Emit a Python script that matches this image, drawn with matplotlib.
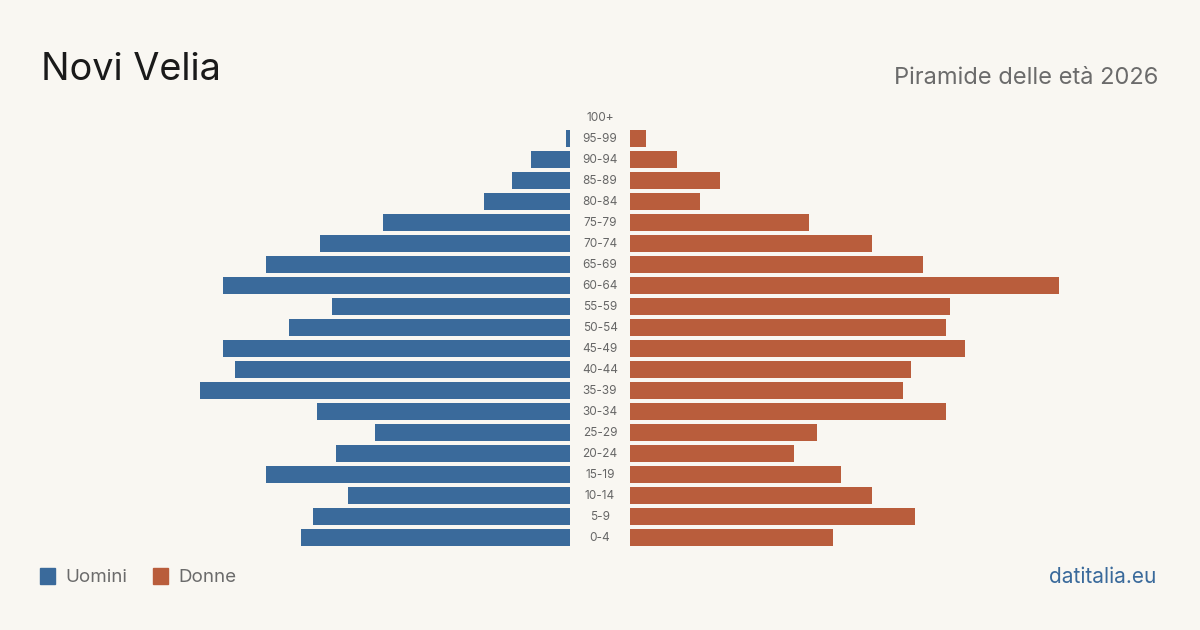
import numpy as np
import matplotlib.pyplot as plt
from matplotlib.patches import Rectangle

# age classes, bottom to top
ages = ["0-4", "5-9", "10-14", "15-19", "20-24", "25-29", "30-34", "35-39",
        "40-44", "45-49", "50-54", "55-59", "60-64", "65-69", "70-74",
        "75-79", "80-84", "85-89", "90-94", "95-99", "100+"]
uomini = [69, 66, 57, 78, 60, 50, 65, 95, 86, 89, 72, 61, 89, 78, 64,
          48, 22, 15, 10, 1, 0]
donne = [52, 73, 62, 54, 42, 48, 81, 70, 72, 86, 81, 82, 110, 75, 62,
         46, 18, 23, 12, 4, 0]

bg = "#f9f7f2"
col_m = "#3a6a9b"
col_f = "#b95d3c"
font = ["Inter", "DejaVu Sans"]
plt.rcParams['font.family'] = font

fig = plt.figure(figsize=(12, 6.3), dpi=100, facecolor=bg)

W, H = 1200.0, 630.0
y_top, y_bot = 107, 548
ax_b = 1 - y_bot / H
ax_h = (y_bot - y_top) / H
px_per = 3.9
lw = 530.0
xmax = lw / px_per

ax_l = fig.add_axes([40 / W, ax_b, lw / W, ax_h])
ax_r = fig.add_axes([630 / W, ax_b, lw / W, ax_h])

y = np.arange(len(ages))
ax_l.barh(y, uomini, height=0.8, color=col_m)
ax_r.barh(y, donne, height=0.8, color=col_f)
ax_l.set_xlim(xmax, 0)
ax_r.set_xlim(0, xmax)
for ax in (ax_l, ax_r):
    ax.set_ylim(-0.5, len(ages) - 0.5)
    ax.set_facecolor("none")
    ax.axis("off")

# age labels in the middle gap
for i, a in enumerate(ages):
    yy = y_bot - (i + 0.5) * (y_bot - y_top) / len(ages)
    fig.text(600 / W, 1 - (yy + 0.5) / H, a, ha="center", va="center",
             fontsize=8.5, color="#666666")

fig.text(41 / W, 1 - 80 / H, "Novi Velia", fontsize=27.3, color="#1a1a1a",
         ha="left", va="baseline")
fig.text(1158 / W, 1 - 84 / H, "Piramide delle età 2026", fontsize=17,
         color="#6b6b6b", ha="right", va="baseline")

# legend
for x0, c, lab in [(40, col_m, "Uomini"), (153, col_f, "Donne")]:
    fig.patches.append(Rectangle((x0 / W, 1 - 584 / H), 15 / W, 16 / H,
                                 transform=fig.transFigure, color=c))
    fig.text((x0 + 25) / W, 1 - 577.5 / H, lab, fontsize=13.5, color="#6b6b6b",
             ha="left", va="center")

fig.text(1156 / W, 1 - 577 / H, "datitalia.eu", fontsize=15, color=col_m,
         ha="right", va="center")

fig.savefig("out.png", dpi=100, facecolor=bg)
